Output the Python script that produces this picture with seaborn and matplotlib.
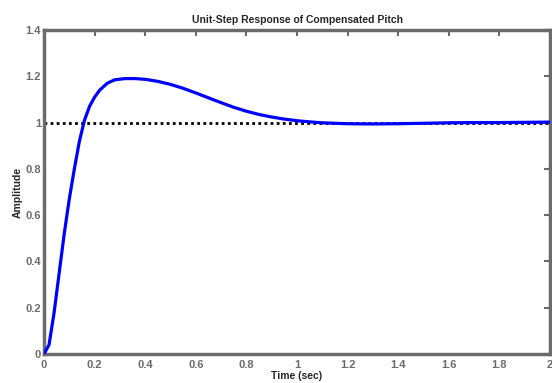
import matplotlib
matplotlib.use("Agg")
import matplotlib.pyplot as plt
import seaborn as sns
import pandas as pd

time_s = [0, 0.02, 0.04, 0.06, 0.08, 0.10, 0.12, 0.14, 0.16, 0.18, 0.20, 0.22,
          0.25, 0.28, 0.32, 0.36, 0.40, 0.45, 0.50, 0.55, 0.60, 0.65, 0.70,
          0.75, 0.80, 0.85, 0.90, 0.95, 1.00, 1.05, 1.10, 1.20, 1.30, 1.40,
          1.50, 1.60, 1.70, 1.80, 1.90, 2.00]
amplitude = [0, 0.04, 0.18, 0.35, 0.52, 0.67, 0.80, 0.92, 1.01, 1.07, 1.11, 1.14,
             1.17, 1.185, 1.19, 1.19, 1.187, 1.178, 1.165, 1.148, 1.128, 1.107,
             1.086, 1.066, 1.049, 1.035, 1.024, 1.015, 1.008, 1.003, 0.999,
             0.995, 0.994, 0.995, 0.997, 0.999, 1.000, 1.000, 1.001, 1.002]
x_ticks = [0, 0.2, 0.4, 0.6, 0.8, 1, 1.2, 1.4, 1.6, 1.8, 2]
x_tick_labels = ["0", "0.2", "0.4", "0.6", "0.8", "1", "1.2", "1.4", "1.6", "1.8", "2"]
y_ticks = [0, 0.2, 0.4, 0.6, 0.8, 1, 1.2, 1.4]
y_tick_labels = ["0", "0.2", "0.4", "0.6", "0.8", "1", "1.2", "1.4"]
reference_level = 1.0

df = pd.DataFrame({"Time": time_s, "Amplitude": amplitude})

sns.set_style("white")
plt.rcParams["font.family"] = ["Liberation Sans", "DejaVu Sans"]

fig = plt.figure(figsize=(5.52, 3.83), dpi=100)
ax = fig.add_axes([44 / 552, 1 - 354 / 383, (550 - 44) / 552, (354 - 30) / 383])

ax.axhline(reference_level, color="black", linestyle=(0, (1, 1.2)), linewidth=2, zorder=2)
sns.lineplot(data=df, x="Time", y="Amplitude", ax=ax, color="#0000ff",
             linewidth=2.3, zorder=3)

ax.set_xlim(0, 2)
ax.set_ylim(0, 1.4)
ax.set_xticks(x_ticks)
ax.set_xticklabels(x_tick_labels)
ax.set_yticks(y_ticks)
ax.set_yticklabels(y_tick_labels)

gray = "#6b6b6b"
for s in ax.spines.values():
    s.set_visible(True)
    s.set_color(gray)
    s.set_linewidth(2.5)
ax.tick_params(direction="in", length=4, width=1.5, color=gray,
               labelcolor=gray, labelsize=8, top=True, right=True, pad=2)
ax.tick_params(axis="x", pad=4)
for lbl in ax.get_xticklabels() + ax.get_yticklabels():
    lbl.set_fontweight("bold")

ax.set_title("Unit-Step Response of Compensated Pitch", fontsize=7.5,
             fontweight="bold", pad=5)
ax.set_xlabel("Time (sec)", fontsize=7.5, fontweight="bold", labelpad=1)
ax.set_ylabel("Amplitude", fontsize=7.5, fontweight="bold", labelpad=2)

fig.savefig("out.png", dpi=100)
